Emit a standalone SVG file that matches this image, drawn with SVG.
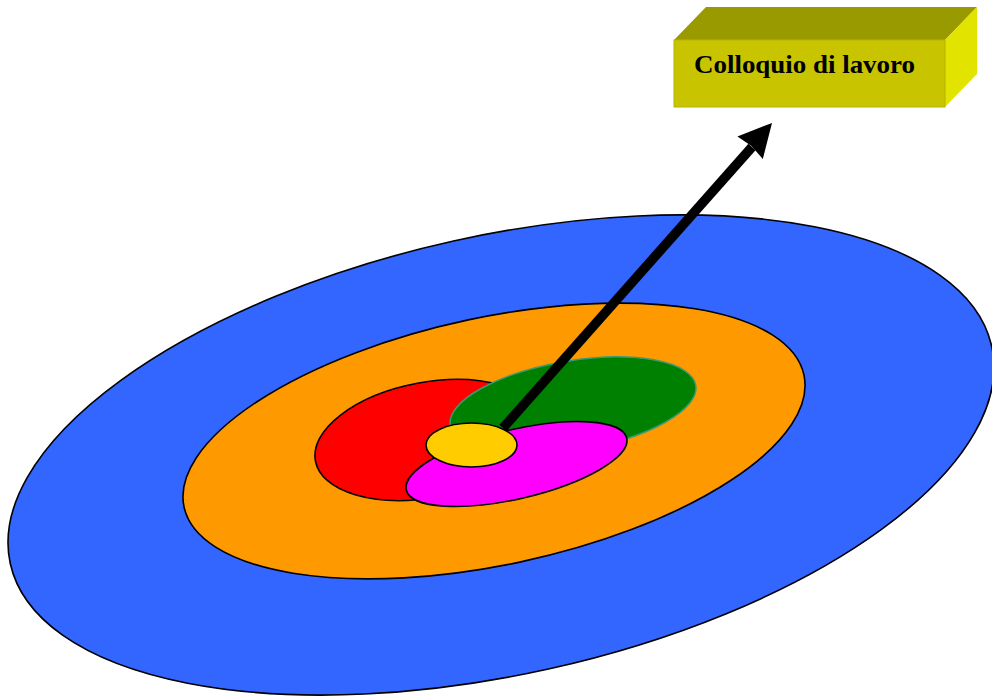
<svg xmlns="http://www.w3.org/2000/svg" width="992" height="696" viewBox="0 0 992 696">
<style>
.ring{stroke:#000;stroke-width:1.6}
.lbl{font-family:"Liberation Serif","DejaVu Serif",serif;font-weight:bold;font-size:26px;fill:#000}
</style>
<rect width="992" height="696" fill="#fff"/>
<g id="blue"><ellipse class="ring" cx="501" cy="455" rx="502.6" ry="219.2" transform="rotate(-12.5 501 455)" fill="#3366FF"/></g>
<g id="orange"><ellipse class="ring" cx="494" cy="441" rx="316.9" ry="123.8" transform="rotate(-12 494 441)" fill="#FF9900"/></g>
<g id="red"><ellipse class="ring" cx="428" cy="440" rx="114.5" ry="57.7" transform="rotate(-10.6 428 440)" fill="#FF0000"/></g>
<g id="green"><ellipse cx="573" cy="405.5" rx="124.4" ry="44.7" transform="rotate(-9.3 573 405.5)" fill="#008000" stroke="#3A9A70" stroke-width="1.5"/></g>
<g id="magenta"><ellipse class="ring" cx="516.5" cy="464" rx="113.2" ry="34.6" transform="rotate(-13.25 516.5 464)" fill="#FF00FF"/></g>
<g id="yellow"><ellipse class="ring" cx="471.5" cy="445" rx="45.5" ry="22" fill="#FFCC00"/></g>
<g id="box">
<polygon points="674,40 706,7 977,7 945,40" fill="#999900"/>
<polygon points="945,40 977,7 977,74 945,107" fill="#E3E300"/>
<rect x="674" y="40" width="271" height="67" fill="#C8C400" stroke="#B8B400" stroke-width="1"/>
<text class="lbl" x="694" y="73" textLength="221" lengthAdjust="spacingAndGlyphs">Colloquio di lavoro</text>
</g>
<g id="connectors">
<line x1="503" y1="428" x2="752" y2="147" stroke="#000" stroke-width="9.5"/>
<polygon points="772,123 762.8,159 751.5,146 737.4,136.4" fill="#000"/>
</g>
</svg>
